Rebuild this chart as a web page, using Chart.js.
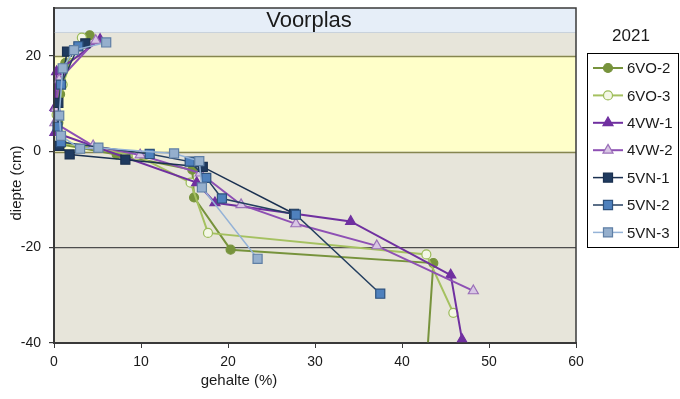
<!DOCTYPE html>
<html>
<head>
<meta charset="utf-8">
<script src="https://cdn.jsdelivr.net/npm/chart.js@4/dist/chart.umd.min.js"></script>
<style>
  html, body { margin: 0; padding: 0; background: #ffffff; }
  #wrap { width: 680px; height: 399px; position: relative; }
</style>
</head>
<body>
<div id="wrap"><canvas id="c" width="680" height="399"></canvas></div>
<script>
// Depth profiles (gehalte in %, diepte in cm) per sampling point, 2021
const seriesNames = ['6VO-2', '6VO-3', '4VW-1', '4VW-2', '5VN-1', '5VN-2', '5VN-3'];
const legendTitle = '2021';
const zoneLabel = 'Voorplas';

const gehalte6VO2 = [4.1, 1.3, 0.7, 0.5, 0.8, 7.2, 15.9, 16.1, 20.3, 43.6, 42.8];
const diepte6VO2  = [24.3, 18.5, 12.0, 6.0, 1.5, -0.6, -3.8, -9.6, -20.5, -23.3, -45];

const gehalte6VO3 = [3.2, 2.2, 1.0, 0.3, 0.9, 9.5, 15.7, 17.7, 42.8, 45.9];
const diepte6VO3  = [23.8, 20.3, 14.0, 7.7, 1.8, -0.8, -6.5, -17.0, -21.5, -33.7];

const gehalte4VW1 = [5.3, 0.3, 0.1, 0.1, 16.4, 18.5, 34.1, 45.6, 46.9];
const diepte4VW1  = [23.4, 16.7, 9.2, 4.0, -6.5, -10.7, -14.6, -25.8, -39.3];

const gehalte4VW2 = [4.8, 0.6, 0.2, 0.1, 4.5, 9.9, 16.8, 21.5, 27.8, 37.1, 48.2];
const diepte4VW2  = [23.2, 15.0, 9.0, 6.0, 1.2, -0.7, -4.5, -11.1, -15.1, -19.7, -29.1];

const gehalte5VN1 = [3.6, 1.5, 0.5, 0.6, 1.8, 8.2, 17.1, 27.6];
const diepte5VN1  = [22.6, 20.9, 10.2, 1.2, -0.6, -1.7, -3.2, -13.0];

const gehalte5VN2 = [2.8, 0.8, 0.4, 0.8, 11.0, 15.6, 17.5, 19.3, 27.8, 37.5];
const diepte5VN2  = [22.0, 14.0, 5.2, 2.0, -0.5, -2.1, -5.5, -9.8, -13.2, -29.7];

const gehalte5VN3 = [6.0, 2.3, 1.0, 0.6, 0.8, 3.0, 5.1, 13.8, 16.7, 17.0, 23.4];
const diepte5VN3  = [22.8, 21.2, 17.4, 7.5, 3.3, 0.6, 0.8, -0.4, -2.0, -7.5, -22.4];

const depthTicks = [20, 0, -20, -40];
const gehalteTicks = [0, 10, 20, 30, 40, 50, 60];
const depthRange = [-40, 30];
const voorplasZone = [25, 30];
const yellowZone = [0, 20];

const FONT = "'Liberation Sans', Arial, sans-serif";

function pairs(xs, ys) { return xs.map((x, i) => ({ x: x, y: ys[i] })); }

const styles = [
  { line: '#77933c', fill: '#77933c', edge: '#77933c', shape: 'circle',   r: 4.5, w: 2 },
  { line: '#a5c160', fill: '#f4f7e6', edge: '#9bbb59', shape: 'circle',   r: 4.5, w: 2 },
  { line: '#7030a0', fill: '#7030a0', edge: '#7030a0', shape: 'triangle', r: 5.8, w: 2 },
  { line: '#8e50b4', fill: '#d8c6e4', edge: '#9a6fb8', shape: 'triangle', r: 5.8, w: 2 },
  { line: '#1a3050', fill: '#1f3a5f', edge: '#1a3050', shape: 'rect',     r: 6.4, w: 1.5 },
  { line: '#243f60', fill: '#4f81bd', edge: '#2e527d', shape: 'rect',     r: 6.4, w: 1.5 },
  { line: '#95b3d7', fill: '#95afcd', edge: '#5f7fa5', shape: 'rect',     r: 6.4, w: 1.5 }
];

const seriesData = [
  pairs(gehalte6VO2, diepte6VO2),
  pairs(gehalte6VO3, diepte6VO3),
  pairs(gehalte4VW1, diepte4VW1),
  pairs(gehalte4VW2, diepte4VW2),
  pairs(gehalte5VN1, diepte5VN1),
  pairs(gehalte5VN2, diepte5VN2),
  pairs(gehalte5VN3, diepte5VN3)
];

const datasets = seriesNames.map((name, i) => ({
  label: name,
  data: seriesData[i],
  showLine: true,
  tension: 0,
  borderColor: styles[i].line,
  borderWidth: styles[i].w,
  pointStyle: styles[i].shape,
  pointRadius: styles[i].r,
  pointHoverRadius: styles[i].r,
  pointBackgroundColor: styles[i].fill,
  pointBorderColor: styles[i].edge,
  pointBorderWidth: 1.2,
  order: seriesNames.length - i,
  clip: { left: 10, top: 10, right: 10, bottom: 0 }
}));

// Plot backdrop: chart area fill and the two depth zones
const backdrop = {
  id: 'backdrop',
  beforeDraw(chart) {
    const { ctx, chartArea: a, scales: { y } } = chart;
    ctx.save();
    ctx.fillStyle = '#e7e5da';
    ctx.fillRect(a.left, a.top, a.right - a.left, a.bottom - a.top);
    const yz0 = y.getPixelForValue(yellowZone[1]), yz1 = y.getPixelForValue(yellowZone[0]);
    ctx.fillStyle = '#ffffc9';
    ctx.fillRect(a.left, yz0, a.right - a.left, yz1 - yz0);
    const vz0 = y.getPixelForValue(voorplasZone[1]), vz1 = y.getPixelForValue(voorplasZone[0]);
    ctx.fillStyle = '#e6eef8';
    ctx.fillRect(a.left, vz0, a.right - a.left, vz1 - vz0);
    ctx.restore();
  },
  beforeDatasetsDraw(chart) {
    const { ctx, chartArea: a, scales: { y } } = chart;
    ctx.save();
    const vz1 = Math.round(y.getPixelForValue(voorplasZone[0])) + 0.5;
    ctx.strokeStyle = '#c9d2dc';
    ctx.lineWidth = 1;
    ctx.beginPath(); ctx.moveTo(a.left, vz1); ctx.lineTo(a.right, vz1); ctx.stroke();
    ctx.strokeStyle = '#86864f';
    ctx.lineWidth = 1.5;
    yellowZone.forEach(v => {
      const p = Math.round(y.getPixelForValue(v)) + 0.5;
      ctx.beginPath(); ctx.moveTo(a.left, p); ctx.lineTo(a.right, p); ctx.stroke();
    });
    ctx.fillStyle = '#1a1a1a';
    ctx.font = '22px ' + FONT;
    ctx.textAlign = 'center';
    ctx.textBaseline = 'middle';
    const vm = (y.getPixelForValue(voorplasZone[0]) + y.getPixelForValue(voorplasZone[1])) / 2;
    ctx.fillText(zoneLabel, (a.left + a.right) / 2 - 6, vm + 1);
    ctx.restore();
  },
  afterDraw(chart) {
    const { ctx, chartArea: a } = chart;
    ctx.save();
    // frame
    ctx.strokeStyle = '#3a3a3a';
    ctx.lineWidth = 1.5;
    ctx.strokeRect(a.left, a.top, a.right - a.left, a.bottom - a.top);
    // axis titles
    ctx.fillStyle = '#1a1a1a';
    ctx.font = '15px ' + FONT;
    ctx.textAlign = 'center';
    ctx.textBaseline = 'middle';
    ctx.fillText('gehalte (%)', 239, 381);
    ctx.translate(17, 183);
    ctx.rotate(-Math.PI / 2);
    ctx.fillText('diepte (cm)', 0, 0);
    ctx.restore();
  }
};

// Boxed legend with line + marker samples
const boxLegend = {
  id: 'boxLegend',
  afterDraw(chart) {
    const { ctx } = chart;
    ctx.save();
    ctx.fillStyle = '#1a1a1a';
    ctx.font = '17px ' + FONT;
    ctx.textAlign = 'center';
    ctx.textBaseline = 'middle';
    ctx.fillText(legendTitle, 631, 36);
    ctx.strokeStyle = '#000000';
    ctx.lineWidth = 1;
    ctx.strokeRect(587.5, 53.5, 91, 194);
    ctx.font = '15px ' + FONT;
    ctx.textAlign = 'left';
    chart.data.datasets.forEach((ds, i) => {
      const yy = 68 + i * 27.4;
      ctx.strokeStyle = ds.borderColor;
      ctx.lineWidth = ds.borderWidth;
      ctx.beginPath(); ctx.moveTo(593, yy); ctx.lineTo(623, yy); ctx.stroke();
      ctx.fillStyle = ds.pointBackgroundColor;
      ctx.strokeStyle = ds.pointBorderColor;
      ctx.lineWidth = ds.pointBorderWidth;
      Chart.helpers.drawPoint(ctx, { pointStyle: ds.pointStyle, radius: ds.pointRadius, borderWidth: ds.pointBorderWidth, rotation: 0 }, 608, yy);
      ctx.fillStyle = '#1a1a1a';
      ctx.fillText(ds.label, 627, yy + 1);
    });
    ctx.restore();
  }
};

Chart.defaults.font.family = FONT;
Chart.defaults.font.size = 14;
Chart.defaults.color = '#1a1a1a';

new Chart(document.getElementById('c'), {
  type: 'scatter',
  data: { datasets: datasets },
  options: {
    responsive: false,
    animation: false,
    devicePixelRatio: 1,
    layout: { padding: { left: 0, top: 8, right: 104, bottom: 0 } },
    plugins: { legend: { display: false }, tooltip: { enabled: false } },
    scales: {
      x: {
        type: 'linear',
        min: gehalteTicks[0],
        max: gehalteTicks[gehalteTicks.length - 1],
        afterFit(s) { s.height = 56; s.paddingLeft = 0; s.paddingRight = 0; },
        afterBuildTicks(s) { s.ticks = gehalteTicks.map(v => ({ value: v })); },
        grid: { drawOnChartArea: false, drawTicks: true, tickLength: 5, tickColor: '#3a3a3a', tickWidth: 1 },
        border: { display: true, color: '#3a3a3a', width: 2 },
        ticks: { padding: 6, font: { size: 14 }, color: '#1a1a1a' }
      },
      y: {
        type: 'linear',
        min: depthRange[0],
        max: depthRange[1],
        afterFit(s) { s.width = 54; s.paddingTop = 0; s.paddingBottom = 0; },
        afterBuildTicks(s) { s.ticks = depthTicks.map(v => ({ value: v })); },
        grid: {
          drawOnChartArea: true,
          drawTicks: true,
          tickLength: 5,
          tickColor: '#3a3a3a',
          color: c => (c.tick && c.tick.value === -20) ? '#4d4d4d' : 'rgba(0,0,0,0)',
          lineWidth: 1.2
        },
        border: { display: true, color: '#3a3a3a', width: 2 },
        ticks: { padding: 8, font: { size: 14 }, color: '#1a1a1a' }
      }
    }
  },
  plugins: [backdrop, boxLegend]
});
</script>
</body>
</html>
